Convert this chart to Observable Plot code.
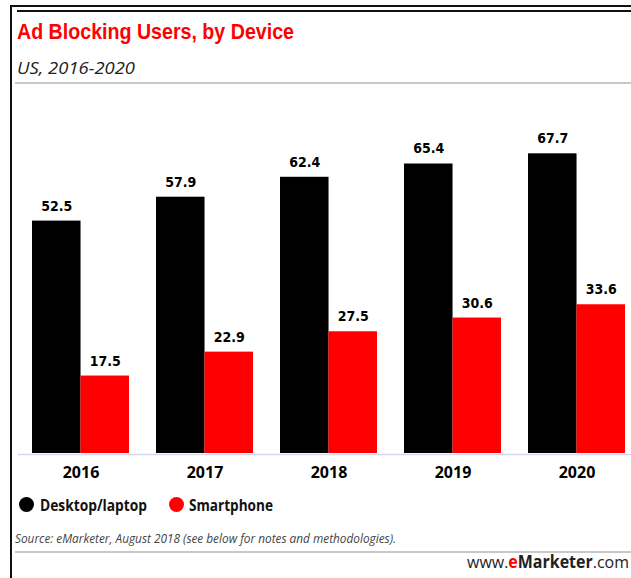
<!DOCTYPE html>
<html><head><meta charset="utf-8">
<script src="https://cdn.jsdelivr.net/npm/d3@7"></script>
<script src="https://cdn.jsdelivr.net/npm/@observablehq/plot@0.6"></script>
<style>
html,body{margin:0;padding:0;background:#fff;}
#wrap{position:relative;width:631px;height:578px;overflow:hidden;font-family:"Open Sans",sans-serif;}
.abs{position:absolute;white-space:nowrap;transform-origin:0 50%;}
.dot{position:absolute;width:15px;height:15px;border-radius:50%;}
</style></head><body>
<div id="wrap">
  <div class="abs" style="left:10px;top:5px;width:621px;height:1.5px;background:#111"></div>
  <div class="abs" style="left:10px;top:5px;width:2px;height:573px;background:#111"></div>
  <div class="abs" style="left:17px;top:10px;width:614px;height:2px;background:#111"></div>
  <div id="title" class="abs" style="left:17px;top:21.4px;font-family:'Liberation Sans Narrow','Liberation Sans',sans-serif;font-weight:bold;font-size:22px;line-height:22px;color:#ff0000">Ad Blocking Users, by Device</div>
  <div id="subtitle" class="abs" style="left:17px;top:58.9px;font-style:italic;font-size:17px;line-height:17px;color:#222">US, 2016-2020</div>
  <div class="abs" style="left:15px;top:82px;width:616px;height:2px;background:#c8c8c8"></div>
  <div id="chart" class="abs" style="left:0;top:90px"></div>
  <div id="legend"></div>
  <div id="source" class="abs" style="left:15px;top:533.3px;font-style:italic;font-size:12px;line-height:12px;color:#444">Source: eMarketer, August 2018 (see below for notes and methodologies).</div>
  <div class="abs" style="left:15px;top:551px;width:616px;height:2px;background:#c8c8c8"></div>
  <div id="www" class="abs" style="left:467px;top:552.5px;font-size:17px;line-height:17px;color:#222">www.<span style="color:#ff0000;font-weight:bold">e</span><span style="font-weight:bold">Marketer</span>.com</div>
</div>
<script>
const years = ["2016", "2017", "2018", "2019", "2020"];
const desktop = [52.5, 57.9, 62.4, 65.4, 67.7];
const smartphone = [17.5, 22.9, 27.5, 30.6, 33.6];
const seriesNames = ["Desktop/laptop", "Smartphone"];
const seriesColors = ["#000000", "#ff0000"];

const deskData = years.map((y, i) => ({year: y, value: desktop[i]}));
const phoneData = years.map((y, i) => ({year: y, value: smartphone[i]}));

const xRange = [31, 625];
const padIn = 0.22;
const step = (xRange[1] - xRange[0]) / (years.length - padIn);
const half = step * (1 - padIn) / 2;

const valFont = {fontFamily: "'DejaVu Sans Condensed','DejaVu Sans',sans-serif", fontWeight: "bold", fontSize: 14};

const chart = Plot.plot({
  width: 631, height: 395,
  marginLeft: 18, marginRight: 0, marginTop: 31, marginBottom: 32,
  style: {background: "transparent", overflow: "visible"},
  x: {domain: years, range: xRange, paddingInner: padIn, paddingOuter: 0, axis: null},
  y: {domain: [0, 75], axis: null},
  marks: [
    Plot.ruleY([0], {stroke: "#d3d9e8", strokeWidth: 1.5, dy: 1}),
    Plot.barY(deskData, {x: "year", y: "value", fill: seriesColors[0], insetRight: half}),
    Plot.barY(phoneData, {x: "year", y: "value", fill: seriesColors[1], insetLeft: half}),
    Plot.text(deskData, {x: "year", y: "value", text: d => d.value.toFixed(1), dx: -half / 2, dy: -15, fill: "#000", ...valFont}),
    Plot.text(phoneData, {x: "year", y: "value", text: d => d.value.toFixed(1), dx: half / 2, dy: -15, fill: "#000", ...valFont}),
    Plot.axisX({tickSize: 0, tickPadding: 13, fontSize: 16, fontWeight: "bold", fontFamily: "'Open Sans',sans-serif", fill: "#000", label: null})
  ]
});
document.getElementById("chart").appendChild(chart);

const legend = document.getElementById("legend");
const legendPos = [{dot: 19.2, text: 40, w: 107}, {dot: 168.5, text: 189, w: 84}];
function fit(el, w) {
  const r = el.getBoundingClientRect().width;
  if (r > 0) el.style.transform = `scaleX(${w / r})`;
}
seriesNames.forEach((name, i) => {
  const d = document.createElement("div");
  d.className = "dot";
  d.style.left = legendPos[i].dot + "px";
  d.style.top = "496.5px";
  d.style.background = seriesColors[i];
  legend.appendChild(d);
  const t = document.createElement("div");
  t.className = "abs";
  t.style.cssText = `left:${legendPos[i].text}px;top:497px;font-weight:bold;font-size:16px;line-height:16px;color:#111`;
  t.textContent = name;
  legend.appendChild(t);
  fit(t, legendPos[i].w);
});
fit(document.getElementById("title"), 277);
fit(document.getElementById("subtitle"), 118);
fit(document.getElementById("source"), 381);
fit(document.getElementById("www"), 162);
</script>
</body></html>
